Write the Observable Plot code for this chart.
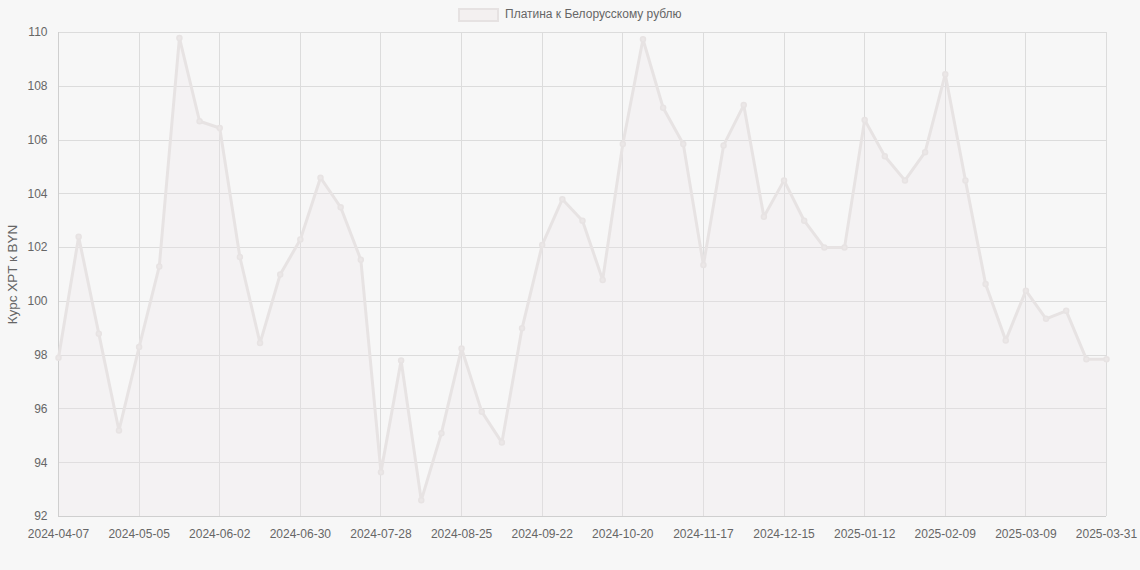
<!DOCTYPE html>
<html>
<head>
<meta charset="utf-8">
<script src="https://cdn.jsdelivr.net/npm/d3@7"></script>
<script src="https://cdn.jsdelivr.net/npm/@observablehq/plot@0.6"></script>
<style>
  body { margin: 0; background: #f7f7f7; font-family: "Liberation Sans", Arial, sans-serif; }
  #legend { height: 24px; position: relative; }
  #legend .box { position: absolute; left: 458px; top: 8px; width: 37px; height: 10px; border: 2.5px solid #e6e2e2; background: #f3f0f0; }
  #legend .txt { position: absolute; left: 505px; top: 7px; font-size: 12px; color: #666; line-height: 15px; }
</style>
</head>
<body>
<div id="legend"><div class="box"></div><div class="txt">Платина к Белорусскому рублю</div></div>
<div id="chart"></div>
<script>
const dates = [
  "2024-04-07","2024-04-14","2024-04-21","2024-04-28","2024-05-05","2024-05-12","2024-05-19","2024-05-26",
  "2024-06-02","2024-06-09","2024-06-16","2024-06-23","2024-06-30","2024-07-07","2024-07-14","2024-07-21",
  "2024-07-28","2024-08-04","2024-08-11","2024-08-18","2024-08-25","2024-09-01","2024-09-08","2024-09-15",
  "2024-09-22","2024-09-29","2024-10-06","2024-10-13","2024-10-20","2024-10-27","2024-11-03","2024-11-10",
  "2024-11-17","2024-11-24","2024-12-01","2024-12-08","2024-12-15","2024-12-22","2024-12-29","2025-01-05",
  "2025-01-12","2025-01-19","2025-01-26","2025-02-02","2025-02-09","2025-02-16","2025-02-23","2025-03-02",
  "2025-03-09","2025-03-16","2025-03-23","2025-03-30","2025-03-31"
];
const values = [
  97.9, 102.4, 98.8, 95.2, 98.3, 101.3, 109.8, 106.7,
  106.45, 101.65, 98.45, 101.0, 102.3, 104.6, 103.5, 101.55,
  93.65, 97.8, 92.6, 95.1, 98.25, 95.9, 94.75, 99.0,
  102.1, 103.8, 103.0, 100.8, 105.85, 109.75, 107.2, 105.85,
  101.35, 105.8, 107.3, 103.15, 104.5, 103.0, 102.0, 102.0,
  106.75, 105.4, 104.5, 105.55, 108.45, 104.5, 100.65, 98.55,
  100.4, 99.35, 99.65, 97.85, 97.85
];
const xTickLabels = [
  "2024-04-07","2024-05-05","2024-06-02","2024-06-30","2024-07-28","2024-08-25","2024-09-22",
  "2024-10-20","2024-11-17","2024-12-15","2025-01-12","2025-02-09","2025-03-09","2025-03-31"
];
const yTicks = [92, 94, 96, 98, 100, 102, 104, 106, 108, 110];
const yTitle = "Курс XPT к BYN";

const data = dates.map((d, i) => ({date: d, value: values[i]}));

const chart = Plot.plot({
  width: 1140,
  height: 546,
  marginTop: 8,
  marginBottom: 54,
  marginLeft: 58,
  marginRight: 34,
  style: {background: "transparent", fontFamily: "'Liberation Sans', Arial, sans-serif", fontSize: "12px", color: "#666"},
  x: {type: "point", domain: dates, padding: 0, round: false},
  y: {domain: [92, 110]},
  marks: [
    Plot.gridX(xTickLabels, {stroke: "#dcdcdc", strokeOpacity: 1, shapeRendering: "crispEdges"}),
    Plot.gridY(yTicks, {stroke: "#dcdcdc", strokeOpacity: 1, shapeRendering: "crispEdges"}),
    Plot.tickX(xTickLabels, {x: d => d, y1: 92, y2: 91.7, stroke: "#dcdcdc", shapeRendering: "crispEdges"}),
    Plot.areaY(data, {x: "date", y1: 92, y2: "value", fill: "#ece4e6", fillOpacity: 0.25}),
    Plot.ruleY([92], {stroke: "#cfcfcf", shapeRendering: "crispEdges"}),
    Plot.ruleX([dates[0]], {stroke: "#cfcfcf", shapeRendering: "crispEdges"}),
    Plot.line(data, {x: "date", y: "value", stroke: "#e7e3e3", strokeWidth: 3}),
    Plot.dot(data, {x: "date", y: "value", r: 2.5, fill: "#ebe7e7", stroke: "#e7e3e3"}),
    Plot.axisX(xTickLabels, {tickSize: 0, tickPadding: 13, fill: "#666", fontSize: 12, label: null}),
    Plot.axisY(yTicks, {tickSize: 0, tickPadding: 11, fill: "#666", fontSize: 12, label: null}),
    Plot.text([yTitle], {text: d => d, frameAnchor: "left", textAnchor: "middle", dx: -46, rotate: -90, fontSize: 13.5, fill: "#666"})
  ]
});
document.getElementById("chart").appendChild(chart);
</script>
</body>
</html>
